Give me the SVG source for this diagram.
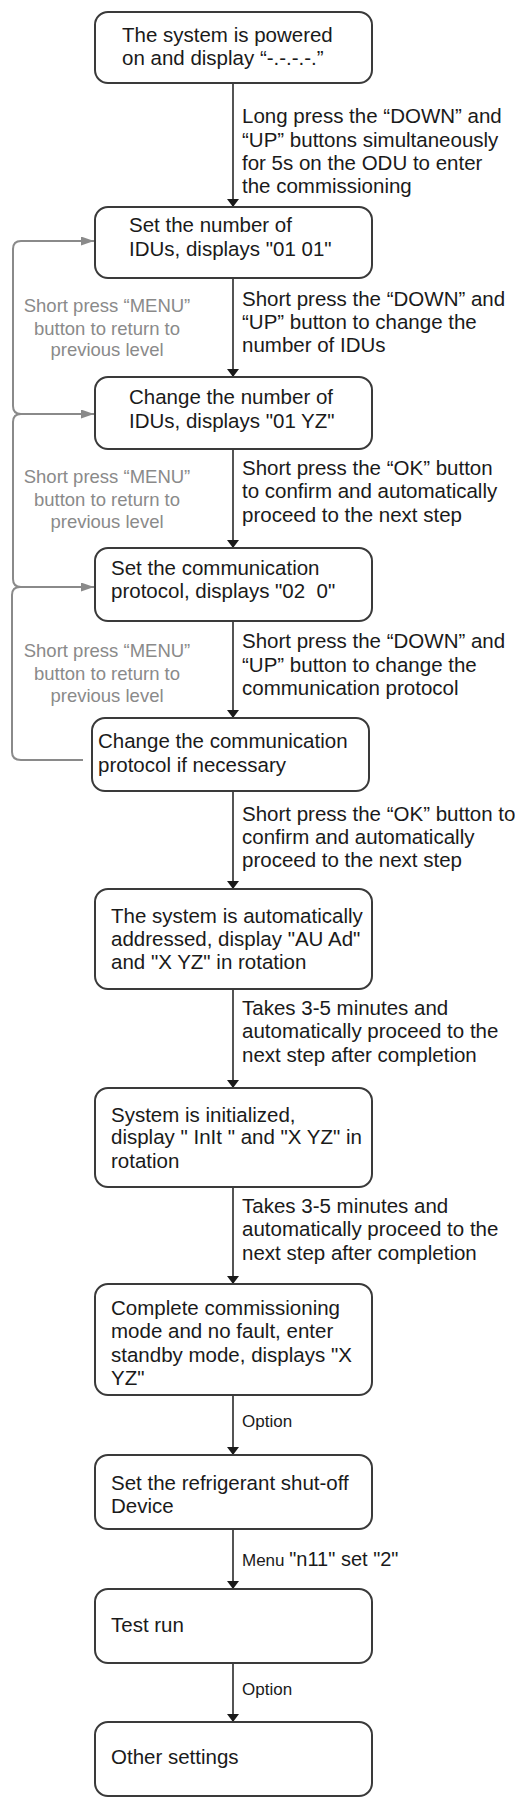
<svg xmlns="http://www.w3.org/2000/svg" width="515" height="1798" viewBox="0 0 515 1798">
<style>
.box{fill:#fff;stroke:#3a3a3a;stroke-width:2}
.t{font-family:"Liberation Sans",Arial,sans-serif;font-size:20.5px;fill:#1a1a1a}
.s{font-family:"Liberation Sans",Arial,sans-serif;font-size:17px;fill:#1a1a1a}
.g{font-family:"Liberation Sans",Arial,sans-serif;font-size:18.5px;fill:#8a8a8a;text-anchor:middle}
.ln{fill:none;stroke:#2a2a2a;stroke-width:1.6}
.gl{fill:none;stroke:#8a8a8a;stroke-width:2}
</style>
<defs>
<marker id="ah" viewBox="0 0 10 10" refX="10" refY="5" markerWidth="8" markerHeight="12" markerUnits="userSpaceOnUse" orient="auto" preserveAspectRatio="none"><path d="M0,0 L10,5 L0,10 Z" fill="#1a1a1a"/></marker>
<marker id="gh" viewBox="0 0 10 10" refX="10" refY="5" markerWidth="13" markerHeight="9" markerUnits="userSpaceOnUse" orient="auto" preserveAspectRatio="none"><path d="M0,0 L10,5 L0,10 Z" fill="#8a8a8a"/></marker>
</defs>
<g id="connectors">
<path class="ln" d="M233,83 V207" marker-end="url(#ah)"/>
<path class="ln" d="M233,278 V377" marker-end="url(#ah)"/>
<path class="ln" d="M233,449 V548" marker-end="url(#ah)"/>
<path class="ln" d="M233,621 V718" marker-end="url(#ah)"/>
<path class="ln" d="M233,791 V889" marker-end="url(#ah)"/>
<path class="ln" d="M233,989 V1088" marker-end="url(#ah)"/>
<path class="ln" d="M233,1187 V1284" marker-end="url(#ah)"/>
<path class="ln" d="M233,1395 V1455" marker-end="url(#ah)"/>
<path class="ln" d="M233,1529 V1589" marker-end="url(#ah)"/>
<path class="ln" d="M233,1663 V1722" marker-end="url(#ah)"/>
<path class="gl" d="M95,414 H21 Q13,414 13,406 V249 Q13,241 21,241 H94" marker-end="url(#gh)"/>
<path class="gl" d="M95,587 H21 Q13,587 13,579 V422 Q13,414 21,414 H94" marker-end="url(#gh)"/>
<path class="gl" d="M83,760 H21 Q12,760 12,752 V595 Q12,587 20,587 H94" marker-end="url(#gh)"/>
<text class="t" x="242" y="123">Long press the “DOWN” and</text>
<text class="t" x="242" y="147">“UP” buttons simultaneously</text>
<text class="t" x="242" y="170">for 5s on the ODU to enter</text>
<text class="t" x="242" y="193">the commissioning</text>
<text class="t" x="242" y="306">Short press the “DOWN” and</text>
<text class="t" x="242" y="329">“UP” button to change the</text>
<text class="t" x="242" y="352">number of IDUs</text>
<text class="t" x="242" y="475">Short press the “OK” button</text>
<text class="t" x="242" y="498">to confirm and automatically</text>
<text class="t" x="242" y="522">proceed to the next step</text>
<text class="t" x="242" y="648">Short press the “DOWN” and</text>
<text class="t" x="242" y="672">“UP” button to change the</text>
<text class="t" x="242" y="695">communication protocol</text>
<text class="t" x="242" y="821">Short press the “OK” button to</text>
<text class="t" x="242" y="844">confirm and automatically</text>
<text class="t" x="242" y="867">proceed to the next step</text>
<text class="t" x="242" y="1015">Takes 3-5 minutes and</text>
<text class="t" x="242" y="1038">automatically proceed to the</text>
<text class="t" x="242" y="1062">next step after completion</text>
<text class="t" x="242" y="1213">Takes 3-5 minutes and</text>
<text class="t" x="242" y="1236">automatically proceed to the</text>
<text class="t" x="242" y="1260">next step after completion</text>
<text class="s" x="242" y="1427">Option</text>
<text class="s" x="242" y="1566">Menu <tspan style="font-size:20px">"n11" set "2"</tspan></text>
<text class="s" x="242" y="1695">Option</text>
<text class="g" x="107" y="312">Short press “MENU”</text>
<text class="g" x="107" y="335">button to return to</text>
<text class="g" x="107" y="356">previous level</text>
<text class="g" x="107" y="483">Short press “MENU”</text>
<text class="g" x="107" y="506">button to return to</text>
<text class="g" x="107" y="528">previous level</text>
<text class="g" x="107" y="657">Short press “MENU”</text>
<text class="g" x="107" y="680">button to return to</text>
<text class="g" x="107" y="702">previous level</text>
</g>
<g id="n1"><rect class="box" x="95" y="12" width="277" height="71" rx="13"/>
<text class="t" x="122" y="42">The system is powered</text><text class="t" x="122" y="65">on and display “-.-.-.-.”</text></g>
<g id="n2"><rect class="box" x="95" y="207" width="277" height="71" rx="13"/>
<text class="t" x="129" y="232">Set the number of</text><text class="t" x="129" y="256">IDUs, displays "01 01"</text></g>
<g id="n3"><rect class="box" x="95" y="377" width="277" height="72" rx="13"/>
<text class="t" x="129" y="404">Change the number of</text><text class="t" x="129" y="428">IDUs, displays "01 YZ"</text></g>
<g id="n4"><rect class="box" x="95" y="548" width="277" height="73" rx="13"/>
<text class="t" x="111" y="575">Set the communication</text><text class="t" x="111" y="598" xml:space="preserve">protocol, displays "02  0"</text></g>
<g id="n5"><rect class="box" x="92" y="718" width="277" height="73" rx="13"/>
<text class="t" x="98" y="748">Change the communication</text><text class="t" x="98" y="772">protocol if necessary</text></g>
<g id="n6"><rect class="box" x="95" y="889" width="277" height="100" rx="13"/>
<text class="t" x="111" y="923">The system is automatically</text><text class="t" x="111" y="946">addressed, display "AU Ad"</text><text class="t" x="111" y="969">and "X YZ" in rotation</text></g>
<g id="n7"><rect class="box" x="95" y="1088" width="277" height="99" rx="13"/>
<text class="t" x="111" y="1122">System is initialized,</text><text class="t" x="111" y="1144">display " InIt " and "X YZ" in</text><text class="t" x="111" y="1168">rotation</text></g>
<g id="n8"><rect class="box" x="95" y="1284" width="277" height="111" rx="13"/>
<text class="t" x="111" y="1315">Complete commissioning</text><text class="t" x="111" y="1338">mode and no fault, enter</text><text class="t" x="111" y="1362">standby mode, displays "X</text><text class="t" x="111" y="1385">YZ"</text></g>
<g id="n9"><rect class="box" x="95" y="1455" width="277" height="74" rx="13"/>
<text class="t" x="111" y="1490">Set the refrigerant shut-off</text><text class="t" x="111" y="1513">Device</text></g>
<g id="n10"><rect class="box" x="95" y="1589" width="277" height="74" rx="13"/>
<text class="t" x="111" y="1632">Test run</text></g>
<g id="n11"><rect class="box" x="95" y="1722" width="277" height="74" rx="13"/>
<text class="t" x="111" y="1764">Other settings</text></g>
</svg>
